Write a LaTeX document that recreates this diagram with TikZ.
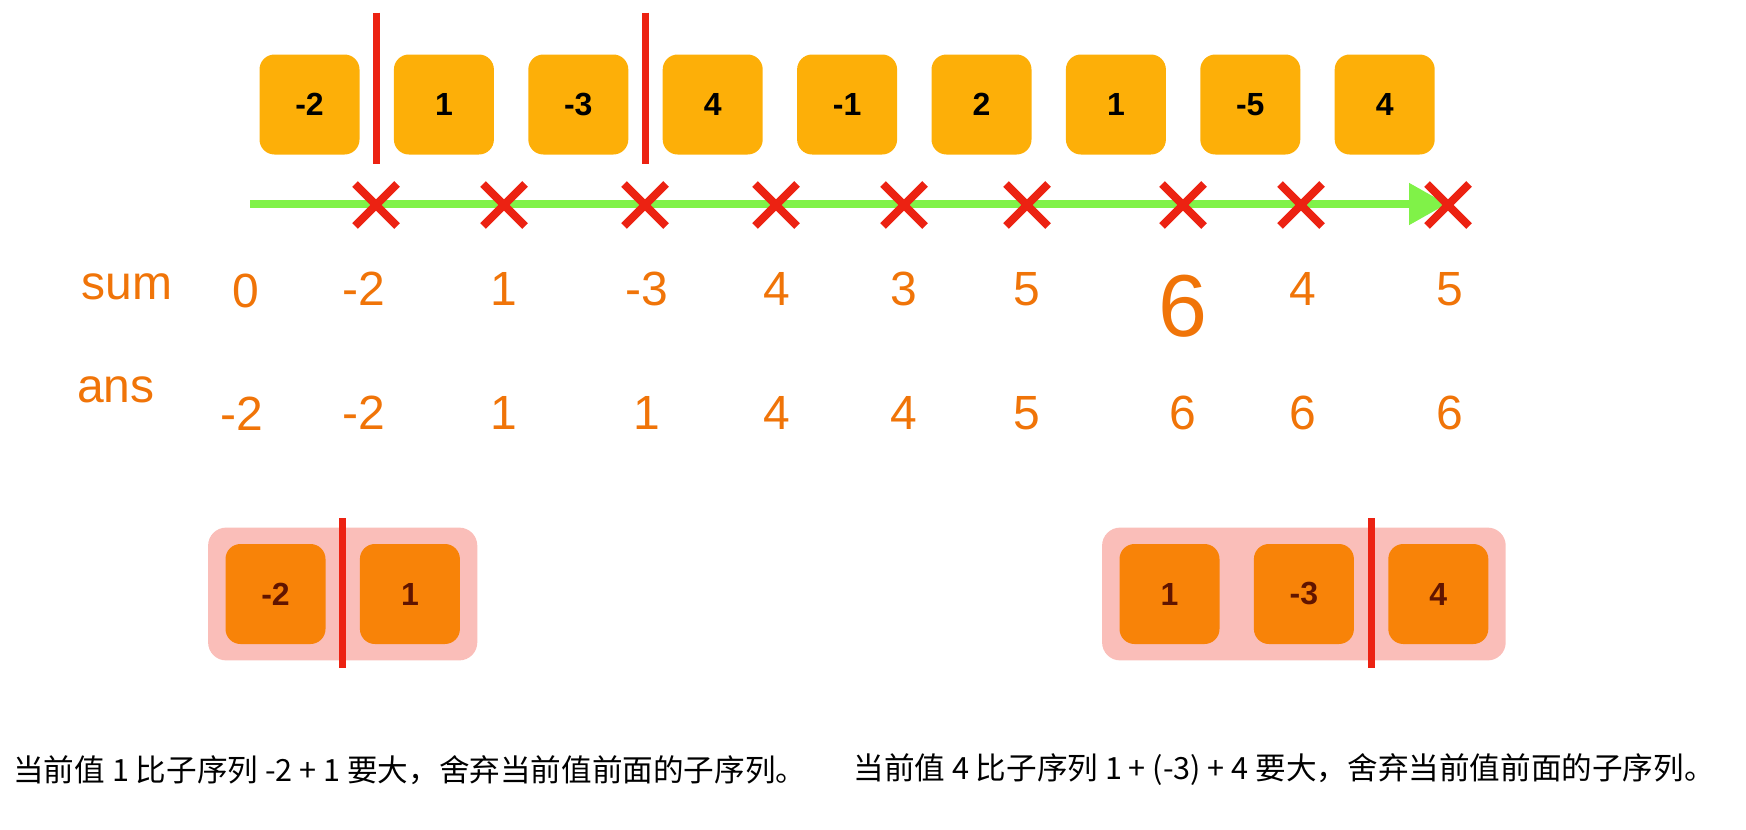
\documentclass[tikz,border=0pt]{standalone}
\usepackage{fontspec}
\setmainfont{Liberation Sans}
\newfontfamily\cjk{Noto Sans CJK SC}
\usepackage{xcolor}
\usepackage{tikz}
\usetikzlibrary{arrows.meta, positioning, fit, calc, backgrounds, shapes.misc}
\definecolor{cellfill}{RGB}{253,175,8}
\definecolor{subfill}{RGB}{248,131,8}
\definecolor{subtext}{RGB}{96,20,0}
\definecolor{groupfill}{RGB}{250,190,185}
\definecolor{cutred}{RGB}{236,34,18}
\definecolor{sumorange}{RGB}{240,116,8}
\definecolor{scangreen}{RGB}{128,242,72}
\tikzset{
  cell/.style={
    rectangle, rounded corners=7.5pt, fill=cellfill,
    minimum width=50pt, minimum height=50pt,
    font=\fontsize{16}{18}\selectfont\bfseries,
    inner sep=0pt, align=center
  },
  subcell/.style={cell, fill=subfill, text=subtext},
  group/.style={
    rectangle, rounded corners=9pt, fill=groupfill,
    inner xsep=8.5pt, inner ysep=8pt
  },
  cutline/.style={draw=cutred, line width=3.5pt},
  crossmark/.style={cross out, draw=cutred, line width=4pt, minimum size=17pt, inner sep=0pt},
  scan/.style={-{Triangle[length=19pt,width=20pt]}, draw=scangreen, line width=4pt},
  rowlabel/.style={font=\fontsize{24}{28}\selectfont, text=sumorange, inner sep=0pt},
  bigsum/.style={rowlabel, font=\fontsize{44}{50}\selectfont, yshift=-8.5pt},
  note/.style={font=\cjk\fontsize{15.3}{18}\selectfont, anchor=west, inner sep=0pt},
}

\begin{document}
\begin{tikzpicture}[x=0.5pt, y=-0.5pt]
    \useasboundingbox (0,0) rectangle (1746,830);

    % the array
    \node[cell] (c1) at (309.5,104.5) {-2};
    \node[cell, right=16.8pt of c1] (c2) {1};
    \node[cell, right=16.8pt of c2] (c3) {-3};
    \node[cell, right=16.8pt of c3] (c4) {4};
    \node[cell, right=16.8pt of c4] (c5) {-1};
    \node[cell, right=16.8pt of c5] (c6) {2};
    \node[cell, right=16.8pt of c6] (c7) {1};
    \node[cell, right=16.8pt of c7] (c8) {-5};
    \node[cell, right=16.8pt of c8] (c9) {4};

    \draw[cutline] ($(c1.east)!0.5!(c2.west)$) ++(0,-92) -- ++(0,151);
    \draw[cutline] ($(c3.east)!0.5!(c4.west)$) ++(0,-92) -- ++(0,151);

    % scan line
    \coordinate (scanstart) at (250,204);
    \coordinate (scanend) at (1447,204);
    \draw[scan] (scanstart) -- (scanend);

    % sum / ans rows
    \node[rowlabel] (sumlabel) at (127,287) {sum};
    \node[rowlabel] (anslabel) at (116,390) {ans};
    \node[rowlabel] (s0) at (246,291) {0};
    \node[rowlabel] (a0) at (242,414) {-2};
    \foreach \x/\n/\s/\a/\st [count=\i] in {376/364/-2/-2/rowlabel, 504/504/1/1/rowlabel,
        645/647/-3/1/rowlabel, 776/777/4/4/rowlabel, 904/904/3/4/rowlabel,
        1027/1027/5/5/rowlabel, 1183/1183/6/6/bigsum, 1301/1303/4/6/rowlabel,
        1448/1450/5/6/rowlabel} {
      \node[crossmark] (x\i) at (\x,205) {};
      \node[\st] (s\i) at (\n,289) {\s};
      \node[rowlabel] (a\i) at (\n,413) {\a};
    }

    % discarded prefixes
    \node[subcell] (l1) at (275.5,594) {-2};
    \node[subcell, right=16.8pt of l1] (l2) {1};
    \node[subcell] (r1) at (1169.5,594) {1};
    \node[subcell, right=16.8pt of r1] (r2) {-3};
    \node[subcell, right=16.8pt of r2] (r3) {4};
    \begin{scope}[on background layer]
      \node[group, fit=(l1)(l2)] (lgroup) {};
      \node[group, fit=(r1)(r3)] (rgroup) {};
    \end{scope}
    \draw[cutline] ($(l1.east)!0.5!(l2.west)$) ++(0,-76) -- ++(0,150);
    \draw[cutline] ($(r2.east)!0.5!(r3.west)$) ++(0,-76) -- ++(0,150);

    \node[note] (lnote) at (13,770) {当前值 1 比子序列 -2 + 1 要大，舍弃当前值前面的子序列。};
    \node[note] (rnote) at (853,770) {当前值 4 比子序列 1 + (-3) + 4 要大，舍弃当前值前面的子序列。};
\end{tikzpicture}
\end{document}
